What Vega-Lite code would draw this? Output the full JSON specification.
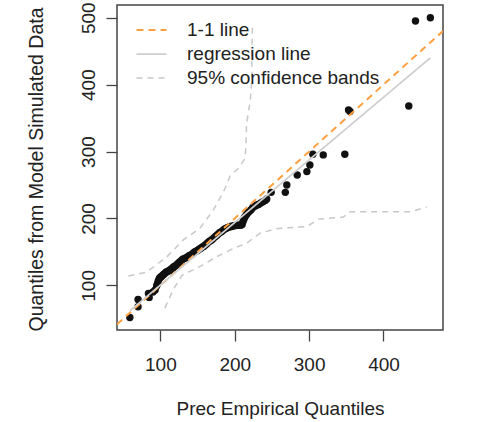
{
  "$schema": "https://vega.github.io/schema/vega-lite/v6.json",
  "width": 326,
  "height": 325,
  "autosize": {"type": "none"},
  "padding": {"left": 117, "top": 5, "right": 35, "bottom": 92},
  "background": "white",
  "config": {
    "view": {"stroke": "#444", "strokeWidth": 1.5},
    "font": "Liberation Sans",
    "axis": {"labelFont": "Liberation Sans", "titleFont": "Liberation Sans", "labelColor": "#222", "titleColor": "#222", "titleFontWeight": "normal", "grid": false, "domain": false, "tickColor": "#444", "tickWidth": 1.3, "tickSize": 11, "labelFontSize": 19, "titleFontSize": 19},
    "legend": {"labelFont": "Liberation Sans", "labelFontSize": 19, "labelColor": "#222"}
  },
  "datasets": {
    "pts": [
      {"x":59,"y":52},{"x":70,"y":79},{"x":70,"y":68},{"x":84,"y":88},{"x":85,"y":82},{"x":90,"y":90},{"x":93,"y":93},{"x":95,"y":99},{"x":96,"y":102},{"x":97,"y":106},{"x":98,"y":109},{"x":99,"y":111},{"x":100,"y":112},{"x":101,"y":113},{"x":102,"y":114},{"x":104,"y":116},{"x":105,"y":117},{"x":107,"y":119},{"x":108,"y":120},{"x":110,"y":121},{"x":112,"y":122},{"x":113,"y":123},{"x":115,"y":125},{"x":117,"y":126},{"x":118,"y":128},{"x":120,"y":129},{"x":122,"y":131},{"x":124,"y":133},{"x":126,"y":135},{"x":128,"y":137},{"x":130,"y":139},{"x":132,"y":140},{"x":134,"y":141},{"x":136,"y":142},{"x":138,"y":144},{"x":140,"y":145},{"x":142,"y":146},{"x":144,"y":148},{"x":146,"y":150},{"x":148,"y":151},{"x":150,"y":152},{"x":152,"y":154},{"x":154,"y":155},{"x":156,"y":157},{"x":158,"y":158},{"x":160,"y":160},{"x":162,"y":162},{"x":164,"y":164},{"x":166,"y":166},{"x":168,"y":167},{"x":170,"y":169},{"x":172,"y":171},{"x":174,"y":173},{"x":176,"y":175},{"x":178,"y":177},{"x":180,"y":179},{"x":182,"y":180},{"x":184,"y":182},{"x":186,"y":184},{"x":188,"y":185},{"x":190,"y":186},{"x":192,"y":187},{"x":194,"y":188},{"x":196,"y":188},{"x":198,"y":189},{"x":200,"y":189},{"x":202,"y":190},{"x":204,"y":190},{"x":206,"y":190},{"x":208,"y":190},{"x":210,"y":191},{"x":211,"y":195},{"x":212,"y":198},{"x":213,"y":201},{"x":214,"y":203},{"x":216,"y":206},{"x":218,"y":209},{"x":220,"y":211},{"x":222,"y":213},{"x":224,"y":216},{"x":226,"y":218},{"x":228,"y":219},{"x":230,"y":220},{"x":232,"y":221},{"x":235,"y":223},{"x":238,"y":225},{"x":241,"y":227},{"x":243,"y":229},{"x":249,"y":239},{"x":268,"y":239},{"x":270,"y":250},{"x":284,"y":265},{"x":297,"y":270},{"x":301,"y":280},{"x":305,"y":296},{"x":319,"y":295},{"x":348,"y":296},{"x":353,"y":362},{"x":355,"y":360},{"x":434,"y":368},{"x":443,"y":495},{"x":463,"y":500}
    ],
    "lines": [
      {"series":"1-1 line","grp":"a","i":0,"x":41.7,"y":41.7},
      {"series":"1-1 line","grp":"a","i":1,"x":480,"y":480},
      {"series":"regression line","grp":"b","i":0,"x":59,"y":62},
      {"series":"regression line","grp":"b","i":1,"x":463,"y":440},
      {"series":"95% confidence bands","grp":"u","i":0,"x":57,"y":114},
      {"series":"95% confidence bands","grp":"u","i":1,"x":82,"y":120},
      {"series":"95% confidence bands","grp":"u","i":2,"x":109,"y":143},
      {"series":"95% confidence bands","grp":"u","i":3,"x":131,"y":168},
      {"series":"95% confidence bands","grp":"u","i":4,"x":153,"y":185},
      {"series":"95% confidence bands","grp":"u","i":5,"x":171,"y":212},
      {"series":"95% confidence bands","grp":"u","i":6,"x":185,"y":240},
      {"series":"95% confidence bands","grp":"u","i":7,"x":194,"y":264},
      {"series":"95% confidence bands","grp":"u","i":8,"x":205,"y":275},
      {"series":"95% confidence bands","grp":"u","i":9,"x":214,"y":290},
      {"series":"95% confidence bands","grp":"u","i":10,"x":215,"y":310},
      {"series":"95% confidence bands","grp":"u","i":11,"x":216,"y":342},
      {"series":"95% confidence bands","grp":"u","i":12,"x":221,"y":377},
      {"series":"95% confidence bands","grp":"u","i":13,"x":223,"y":406},
      {"series":"95% confidence bands","grp":"u","i":14,"x":223,"y":450},
      {"series":"95% confidence bands","grp":"u","i":15,"x":224,"y":492},
      {"series":"95% confidence bands","grp":"l","i":0,"x":106,"y":66},
      {"series":"95% confidence bands","grp":"l","i":1,"x":117,"y":93},
      {"series":"95% confidence bands","grp":"l","i":2,"x":129,"y":115},
      {"series":"95% confidence bands","grp":"l","i":3,"x":153,"y":128},
      {"series":"95% confidence bands","grp":"l","i":4,"x":176,"y":143},
      {"series":"95% confidence bands","grp":"l","i":5,"x":198,"y":155},
      {"series":"95% confidence bands","grp":"l","i":6,"x":216,"y":163},
      {"series":"95% confidence bands","grp":"l","i":7,"x":234,"y":178},
      {"series":"95% confidence bands","grp":"l","i":8,"x":257,"y":185},
      {"series":"95% confidence bands","grp":"l","i":9,"x":297,"y":188},
      {"series":"95% confidence bands","grp":"l","i":10,"x":313,"y":199},
      {"series":"95% confidence bands","grp":"l","i":11,"x":346,"y":202},
      {"series":"95% confidence bands","grp":"l","i":12,"x":355,"y":210},
      {"series":"95% confidence bands","grp":"l","i":13,"x":436,"y":210},
      {"series":"95% confidence bands","grp":"l","i":14,"x":458,"y":217}
    ]
  },
  "encoding": {
    "x": {"field": "x", "type": "quantitative", "scale": {"domain": [41.7, 480], "nice": false, "zero": false},
      "axis": {"values": [100, 200, 300, 400], "labelPadding": 14, "title": "Prec Empirical Quantiles", "titleX": 163, "titleY": 84, "titleBaseline": "alphabetic", "titleAlign": "center"}},
    "y": {"field": "y", "type": "quantitative", "scale": {"domain": [33.3, 519], "nice": false, "zero": false},
      "axis": {"values": [100, 200, 300, 400, 500], "labelAngle": -90, "labelAlign": "center", "labelBaseline": "alphabetic", "labelPadding": 12, "title": "Quantiles from Model Simulated Data", "titleFontSize": 19.5, "titleAngle": -90, "titleX": -75, "titleY": 164, "titleBaseline": "alphabetic", "titleAlign": "center"}}
  },
  "layer": [
    {
      "data": {"name": "pts"},
      "mark": {"type": "circle", "size": 55, "color": "#111", "opacity": 1}
    },
    {
      "data": {"name": "lines"},
      "mark": {"type": "line", "clip": true},
      "encoding": {
        "detail": {"field": "grp"},
        "order": {"field": "i", "type": "quantitative"},
        "color": {"field": "series", "type": "nominal", "title": null,
          "scale": {"domain": ["1-1 line", "regression line", "95% confidence bands"], "range": ["#FFA040", "#cfcfcf", "#c8c8c8"]},
          "legend": {"orient": "none", "legendX": 15, "legendY": 15.5, "padding": 0, "symbolType": "M-1,0H5", "symbolSize": 100, "symbolStrokeWidth": 1.8, "symbolFillColor": "transparent", "symbolOffset": 0, "labelOffset": 36, "rowPadding": 4, "labelLimit": 400}},
        "strokeDash": {"field": "series", "type": "nominal", "title": null,
          "scale": {"domain": ["1-1 line", "regression line", "95% confidence bands"], "range": [[7, 5], [1, 0], [6, 5]]}},
        "strokeWidth": {"field": "series", "type": "nominal", "legend": null,
          "scale": {"domain": ["1-1 line", "regression line", "95% confidence bands"], "range": [2, 1.5, 1.3]}}
      }
    }
  ]
}
